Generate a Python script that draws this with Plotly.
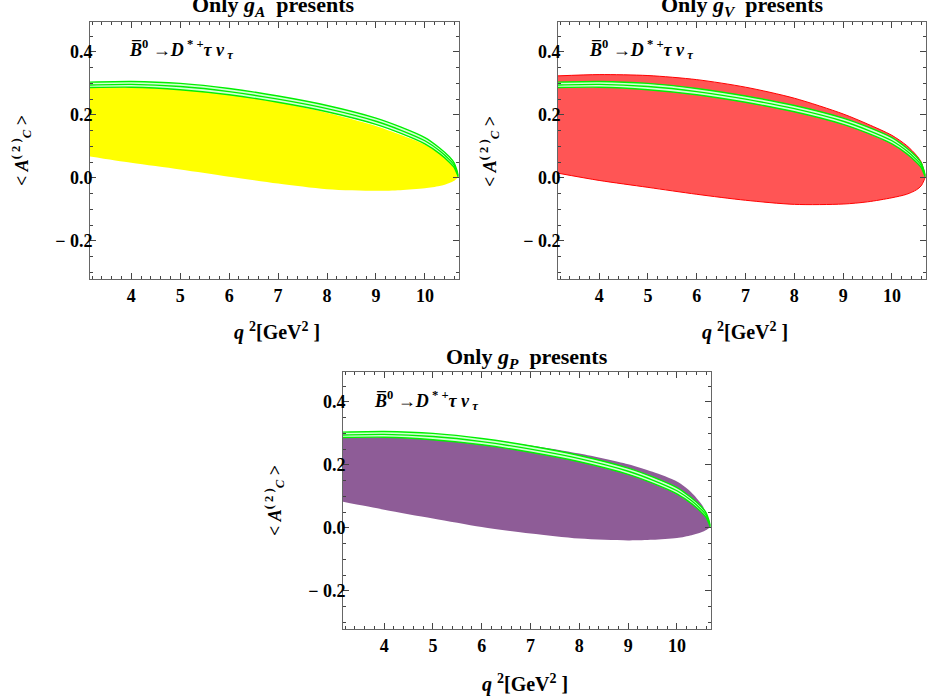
import plotly.graph_objects as go

# ---------------- data ----------------
q2 = [3.157, 4.0, 5.0, 6.0, 7.0, 8.0, 9.0, 9.5, 10.0, 10.3, 10.5, 10.6, 10.687]

# SM band (green)
sm_upper = [0.304, 0.306, 0.300, 0.284, 0.260, 0.230, 0.190, 0.162, 0.128, 0.095, 0.067, 0.047, 0.008]
sm_mid   = [0.295, 0.297, 0.290, 0.274, 0.250, 0.220, 0.180, 0.152, 0.118, 0.086, 0.058, 0.040, 0.005]
sm_lower = [0.287, 0.288, 0.280, 0.264, 0.240, 0.210, 0.170, 0.142, 0.108, 0.077, 0.050, 0.033, 0.002]

# Only gA (yellow)
gA_upper = [0.288, 0.290, 0.283, 0.267, 0.240, 0.207, 0.165, 0.137, 0.106, 0.078, 0.054, 0.036, 0.003]
gA_lower = [0.068, 0.048, 0.027, 0.004, -0.018, -0.036, -0.041, -0.039, -0.033, -0.026, -0.016, -0.009, 0.003]

# Only gV (red)
gV_upper = [0.324, 0.328, 0.325, 0.312, 0.288, 0.253, 0.203, 0.171, 0.135, 0.103, 0.072, 0.050, 0.003]
gV_lower = [0.015, -0.008, -0.030, -0.052, -0.071, -0.084, -0.083, -0.076, -0.063, -0.052, -0.038, -0.025, 0.003]

# Only gP (purple)
gP_upper = [0.298, 0.300, 0.292, 0.280, 0.262, 0.236, 0.202, 0.178, 0.147, 0.112, 0.076, 0.048, 0.003]
gP_lower = [0.083, 0.058, 0.030, 0.003, -0.018, -0.034, -0.040, -0.038, -0.032, -0.023, -0.014, -0.007, 0.003]

x_ticks = [4, 5, 6, 7, 8, 9, 10]
y_ticks = [-0.2, 0.0, 0.2, 0.4]
y_tick_text = ["\u2212 0.2", "0.0", "0.2", "0.4"]

titles = ["Only <i>g</i><sub><i>A</i></sub>  presents",
          "Only <i>g</i><sub><i>V</i></sub>  presents",
          "Only <i>g</i><sub><i>P</i></sub>  presents"]
decay_text = "<i>B\u0305</i><sup>0</sup> \u2192<i>D</i><sup> * +</sup><i>\u03c4 \u03bd</i><sub><i> \u03c4</i></sub>"
x_title = "<i>q</i> <sup>2</sup>[GeV<sup>2</sup> ]"
y_title = "< <i>A</i><sup>( 2 )</sup><sub><i>C</i></sub> >"

# ---------------- layout geometry ----------------
W, H = 927, 698
FONT = "Liberation Serif"

def px_x(p):
    return p / W

def px_y(p):
    return 1 - p / H

panels = [
    dict(x0=90, x1=458.5, y0=22, y1=279, upper=gA_upper, lower=gA_lower,
         fill="#FFFF00", line="#FFFF00", lw=0, title=titles[0], tx=273, ty=6,
         dx=127, dy=50, xt=(277, 332), yt=(21, 151)),
    dict(x0=558, x1=925.5, y0=22, y1=279, upper=gV_upper, lower=gV_lower,
         fill="#FF5555", line="#FF0000", lw=1, title=titles[1], tx=742, ty=6,
         dx=587, dy=50, xt=(745, 332), yt=(489, 151)),
    dict(x0=343, x1=710.5, y0=372, y1=629, upper=gP_upper, lower=gP_lower,
         fill="#8E5C97", line="#8E5C97", lw=0, title=titles[2], tx=527, ty=358,
         dx=372, dy=400, xt=(525, 683), yt=(274, 501)),
]

fig = go.Figure()
annotations = []

for i, p in enumerate(panels):
    n = "" if i == 0 else str(i + 1)
    xa, ya = "x" + n, "y" + n
    # NP region
    fig.add_trace(go.Scatter(
        x=q2 + q2[::-1], y=p["upper"] + p["lower"][::-1],
        fill="toself", fillcolor=p["fill"], mode="lines",
        line=dict(color=p["line"], width=p["lw"], shape="spline", smoothing=0.8),
        xaxis=xa, yaxis=ya, showlegend=False, hoverinfo="skip"))
    # SM band pale fill
    fig.add_trace(go.Scatter(
        x=q2 + q2[::-1], y=sm_upper + sm_lower[::-1],
        fill="toself", fillcolor="#D2FFD2", mode="lines",
        line=dict(color="#D2FFD2", width=0, shape="spline", smoothing=0.6),
        xaxis=xa, yaxis=ya, showlegend=False, hoverinfo="skip"))
    for arr in (sm_upper, sm_mid, sm_lower):
        fig.add_trace(go.Scatter(
            x=q2, y=arr, mode="lines",
            line=dict(color="#00F000", width=1.4, shape="spline", smoothing=0.6),
            xaxis=xa, yaxis=ya, showlegend=False, hoverinfo="skip"))

    axis_common = dict(showline=True, linecolor="#666666", linewidth=1, mirror="allticks",
                       ticks="inside", tickcolor="#444444", ticklen=6, tickwidth=1,
                       showgrid=False, zeroline=False,
                       tickfont=dict(family=FONT, size=18, color="black", weight="bold"))
    fig.update_layout(**{
        ("xaxis" + n): dict(axis_common, domain=[px_x(p["x0"]), px_x(p["x1"])],
                            range=[3.157, 10.687], anchor=ya, tickvals=x_ticks,
                            ticklabelstandoff=0,
                            minor=dict(dtick=0.2, tick0=4, ticks="inside", ticklen=3,
                                       tickcolor="#444444", showgrid=False)),
        ("yaxis" + n): dict(axis_common, domain=[px_y(p["y1"]), px_y(p["y0"])],
                            range=[-0.321, 0.495], anchor=xa, tickvals=y_ticks,
                            ticktext=y_tick_text, ticklabelstandoff=-7,
                            minor=dict(dtick=0.05, tick0=0, ticks="inside", ticklen=3,
                                       tickcolor="#444444", showgrid=False)),
    })

    annotations.append(dict(text=p["title"], x=px_x(p["tx"]), y=px_y(p["ty"]),
                            xref="paper", yref="paper", showarrow=False,
                            xanchor="center", yanchor="middle",
                            font=dict(family=FONT, size=22, color="black", weight="bold")))
    annotations.append(dict(text=decay_text, x=px_x(p["dx"]), y=px_y(p["dy"]),
                            xref="paper", yref="paper", showarrow=False,
                            xanchor="left", yanchor="middle",
                            font=dict(family=FONT, size=18, color="black", weight="bold")))
    annotations.append(dict(text=x_title, x=px_x(p["xt"][0]), y=px_y(p["xt"][1]),
                            xref="paper", yref="paper", showarrow=False,
                            xanchor="center", yanchor="middle",
                            font=dict(family=FONT, size=20, color="black", weight="bold")))
    annotations.append(dict(text=y_title, x=px_x(p["yt"][0]), y=px_y(p["yt"][1]),
                            xref="paper", yref="paper", showarrow=False, textangle=-90,
                            xanchor="center", yanchor="middle",
                            font=dict(family=FONT, size=18, color="black", weight="bold")))

fig.update_layout(width=W, height=H, margin=dict(l=0, r=0, t=0, b=0),
                  paper_bgcolor="white", plot_bgcolor="white",
                  annotations=annotations, showlegend=False)

fig.write_html("out.html", config={"displayModeBar": False},
               post_script="document.body.style.margin='0';document.body.style.overflow='hidden';")
